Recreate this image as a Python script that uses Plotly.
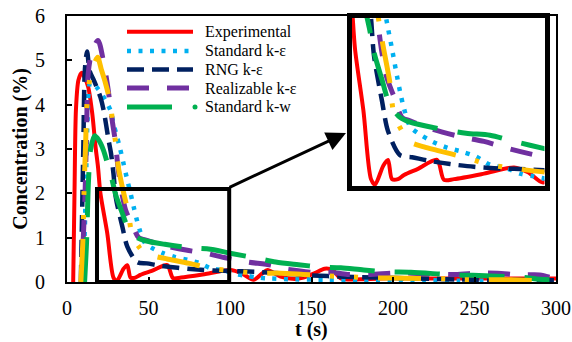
import plotly.graph_objects as go

# ---------------- data ----------------
t_exp = [3.8, 4.6, 5.5, 7, 9, 11, 13, 15.5, 17.5, 19, 20.5, 24.7, 28.5, 30.5, 34.7, 37, 39, 42, 45, 52,
         61.5, 65, 70, 85, 100, 107, 114.5, 120, 123, 131, 140, 145, 152, 158, 163, 168, 180, 192,
         220, 250, 275, 300]
v_exp = [0, 2.0, 3.9, 4.55, 4.72, 4.6, 4.4, 3.8, 3.05, 2.6, 2.0, 1.1, 0.1, 0.02, 0.3, 0.38, 0.1, 0.1, 0.16, 0.25,
         0.38, 0.09, 0.1, 0.18, 0.27, 0.2, 0.05, 0.2, 0.27, 0.12, 0.07, 0.1, 0.2, 0.3, 0.27, 0.08, 0.06, 0.08,
         0.08, 0.08, 0.08, 0.08]

t_ske = [10, 11.5, 12.6, 14.4, 18, 22, 26.7, 28.5, 30.5, 32.5, 34.5, 37, 39, 41, 43, 45, 48, 52, 59, 66.5,
         74, 81, 88, 96, 103, 110, 117, 124, 140, 160, 180, 200, 220, 240, 260, 280, 300]
v_ske = [0, 2.0, 3.65, 4.5, 4.4, 4.2, 3.87, 3.57, 3.3, 3.02, 2.7, 2.3, 2.0, 1.68, 1.38, 1.13, 0.87, 0.77, 0.65, 0.56,
         0.5, 0.43, 0.31, 0.26, 0.18, 0.14, 0.1, 0.08, 0.06, 0.05, 0.05, 0.05, 0.04, 0.03, 0.03, 0.02, 0.02]

t_rng = [8.5, 10, 11, 12.3, 14, 16.5, 20.5, 22.5, 25.5, 27, 28.5, 30, 34, 37, 43, 49, 57, 68, 80, 90, 100,
         115, 130, 150, 170, 190, 215, 250, 275, 300]
v_rng = [0, 3.0, 4.8, 5.2, 4.75, 4.55, 4.17, 3.87, 3.2, 2.9, 2.45, 1.9, 1.24, 0.8, 0.45, 0.42, 0.37, 0.32, 0.28,
         0.26, 0.25, 0.23, 0.2, 0.15, 0.12, 0.1, 0.08, 0.05, 0.05, 0.04]

t_rke = [9, 10, 11, 12, 13, 15, 19, 22.5, 25, 27.7, 29.8, 31, 33, 36, 40, 44, 48, 59, 73, 85, 98, 111, 125,
         131, 150, 162, 172, 186, 200, 211, 238, 252, 264, 277, 290, 297]
v_rke = [0, 1.0, 1.9, 3.4, 4.7, 5.15, 5.45, 4.95, 4.4, 3.65, 3.13, 2.68, 2.14, 1.62, 1.3, 1.0, 0.95, 0.83, 0.72,
         0.65, 0.54, 0.45, 0.38, 0.31, 0.22, 0.22, 0.17, 0.17, 0.2, 0.2, 0.17, 0.2, 0.2, 0.16, 0.16, 0.1]

t_skw = [10.8, 12, 13.2, 14.5, 17, 19.5, 22.4, 25, 27.7, 30, 34, 37.7, 43, 48, 60, 76, 88, 100, 116, 128, 142,
         155, 168, 182, 196.5, 211, 237, 249, 264, 278, 290, 296]
v_skw = [0, 0.9, 2.3, 3.0, 3.3, 3.2, 2.97, 2.65, 2.3, 1.95, 1.55, 1.2, 1.0, 0.93, 0.85, 0.77, 0.74, 0.65, 0.54,
         0.45, 0.39, 0.34, 0.32, 0.27, 0.23, 0.22, 0.16, 0.15, 0.13, 0.11, 0.06, 0.05]

t_orn = [8.5, 9.8, 10.4, 11.5, 12.4, 14.4, 17, 18.8, 21, 23.5, 26.5, 28, 30, 31.6, 34.5, 37.7, 40, 44, 47.6,
         55, 61.5, 75, 88, 102, 117, 131, 145, 159, 172, 187, 200, 217, 235, 243, 257, 272, 295]
v_orn = [0, 1.0, 2.0, 3.2, 4.1, 4.66, 4.95, 5.07, 4.8, 4.5, 4.05, 3.6, 3.1, 2.57, 2.05, 1.55, 1.05, 0.8, 0.65,
         0.57, 0.52, 0.42, 0.31, 0.25, 0.2, 0.2, 0.17, 0.14, 0.12, 0.09, 0.09, 0.08, 0.07, 0.05, 0.05, 0.05, 0.02]

names = ["Experimental", "Standard k-ε", "RNG k-ε", "Realizable k-ε", "Standard k-w", ""]
x_ticks = [0, 50, 100, 150, 200, 250, 300]
y_ticks = [0, 1, 2, 3, 4, 5, 6]
x_title = "t (s)"
y_title = "Concentration (%)"

# ---------------- styles ----------------
FONT = "'Liberation Serif', 'Times New Roman', Times, 'DejaVu Serif', serif"
styles = [
    dict(color="#FF0000", width=4, dash="solid"),
    dict(color="#00B0F0", width=4.5, dash="4px,7.5px"),
    dict(color="#002060", width=4.5, dash="17px,8px"),
    dict(color="#7030A0", width=5, dash="22px,18px"),
    dict(color="#00B050", width=5, dash="45px,20px"),
    dict(color="#FFC000", width=5, dash="43px,20px,4px,20px,4px,20px"),
]
data = [(t_exp, v_exp), (t_ske, v_ske), (t_rng, v_rng), (t_rke, v_rke), (t_skw, v_skw), (t_orn, v_orn)]

W, H = 572, 342
ML, MR, MT, MB = 67, 16, 16, 60
PW, PH = W - ML - MR, H - MT - MB


def px(x):
    return (x - ML) / PW


def py(y):
    return (H - MB - y) / PH


fig = go.Figure()
for (t, v), st, nm in zip(data, styles, names):
    for xa, ya in (("x", "y"), ("x2", "y2")):
        fig.add_trace(go.Scatter(
            x=t, y=v, mode="lines", name=nm, showlegend=False, hoverinfo="skip",
            xaxis=xa, yaxis=ya,
            line=dict(color=st["color"], width=st["width"], dash=st["dash"], shape="spline", smoothing=0.8),
        ))

axis_common = dict(showgrid=False, zeroline=False, showline=True, linecolor="black", mirror=True,
                   automargin=False)

fig.update_layout(
    width=W, height=H,
    margin=dict(l=ML, r=MR, t=MT, b=MB, autoexpand=False),
    paper_bgcolor="white", plot_bgcolor="white",
    font=dict(family=FONT, size=20, color="black"),
    xaxis=dict(range=[0, 300], tickvals=x_ticks, ticks="inside", ticklen=5, tickwidth=2, tickcolor="black",
               linewidth=2, tickfont=dict(family=FONT, size=20), ticklabelstandoff=7,
               **axis_common),
    yaxis=dict(range=[0, 6], tickvals=y_ticks, ticks="inside", ticklen=5, tickwidth=2, tickcolor="black",
               linewidth=2, tickfont=dict(family=FONT, size=20), ticklabelstandoff=16,
               title=dict(text="<b>" + y_title + "</b>", font=dict(family=FONT, size=20), standoff=2),
               **axis_common),
    xaxis2=dict(domain=[px(351.5), px(544.5)], range=[18.75, 115.25], anchor="y2", showticklabels=False,
                ticks="", linewidth=5, **axis_common),
    yaxis2=dict(domain=[py(186), py(18)], range=[0, 2.45], anchor="x2", showticklabels=False,
                ticks="", linewidth=5, **axis_common),
)

# x-axis title (placed as annotation so it can sit close to the bottom edge)
fig.add_annotation(x=0.5, y=py(342), xref="paper", yref="paper", text="<b>" + x_title + "</b>",
                   showarrow=False, xanchor="center", yanchor="bottom", borderpad=0,
                   font=dict(family=FONT, size=20, color="black"))

# zoom rectangle in main plot
fig.add_shape(type="rect", xref="x", yref="y", x0=18.4, x1=99.5, y0=0, y1=2.1,
              line=dict(color="black", width=4), layer="above")

# arrow to inset
fig.add_annotation(x=px(346), y=py(133), xref="paper", yref="paper", ax=-118, ay=55,
                   showarrow=True, arrowhead=2, arrowsize=1.3, arrowwidth=3, arrowcolor="black",
                   text="", standoff=0)

# manual legend
rows = [31.7, 51, 69.5, 88, 107]
for i, yy in enumerate(rows):
    st = styles[i]
    if i == 4:
        fig.add_shape(type="line", xref="paper", yref="paper", x0=px(127), x1=px(172), y0=py(yy), y1=py(yy),
                      line=dict(color=st["color"], width=st["width"]))
        fig.add_shape(type="circle", xref="paper", yref="paper", x0=px(192.5), x1=px(197.5),
                      y0=py(yy + 2.5), y1=py(yy - 2.5), fillcolor=st["color"], line=dict(width=0))
    else:
        fig.add_shape(type="line", xref="paper", yref="paper", x0=px(127), x1=px(193), y0=py(yy), y1=py(yy),
                      line=dict(color=st["color"], width=st["width"], dash=st["dash"]))
    fig.add_annotation(x=px(203), y=py(yy), xref="paper", yref="paper", text=names[i], showarrow=False,
                       xanchor="left", yanchor="middle", font=dict(family=FONT, size=16, color="black"))

fig.write_html("out.html")
